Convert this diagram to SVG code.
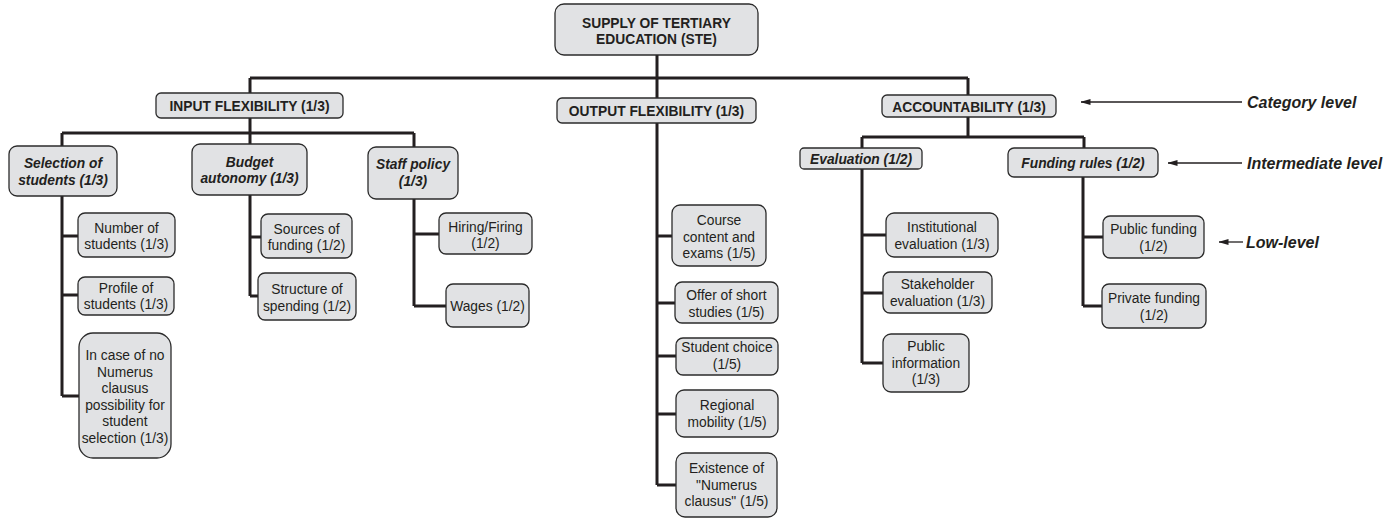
<svg xmlns="http://www.w3.org/2000/svg" width="1392" height="519" viewBox="0 0 1392 519">
<defs>
<style>
.box{fill:#e1e2e4;stroke:#2b2b2b;stroke-width:1.3}
text{font-family:"Liberation Sans",Arial,Helvetica,sans-serif;font-size:13.8px;fill:#231f20;text-anchor:middle}
.b{font-weight:bold}
.bi{font-weight:bold;font-style:italic}
.lbl{font-weight:bold;font-style:italic;font-size:16px;text-anchor:start}
.c{fill:none;stroke:#231f20;stroke-width:3}
.a{fill:none;stroke:#231f20;stroke-width:1.3}
</style>
<marker id="ah" viewBox="0 0 10 6" refX="9.5" refY="3" markerWidth="10" markerHeight="6" orient="auto" markerUnits="userSpaceOnUse">
<path d="M0,0 L10,3 L0,6 Z" fill="#231f20"/>
</marker>
</defs>
<rect width="1392" height="519" fill="#ffffff"/>

<g id="connectors">
<path class="c" d="M657,55 V98 M250,78 H968 M250,78 V93 M968,78 V95"/>
<path class="c" d="M250,118 V133 M62,133 H414 M62,133 V146 M250,133 V144 M414,133 V147"/>
<path class="c" d="M62,196 V396 M62,236 H78 M62,295 H78 M62,396 H79"/>
<path class="c" d="M250,195 V296 M250,237 H261 M250,296 H258"/>
<path class="c" d="M414,199 V306 M414,234 H439 M414,306 H446"/>
<path class="c" d="M657,123 V485 M657,236 H672 M657,303 H675 M657,356 H676 M657,414 H676 M657,485 H676"/>
<path class="c" d="M968,116 V137 M862,137 H1084 M862,137 V148 M1084,137 V148"/>
<path class="c" d="M862,169 V363 M862,235 H886 M862,293 H883 M862,363 H883"/>
<path class="c" d="M1083,177 V306 M1083,237 H1103 M1083,306 H1102"/>
<path class="a" d="M1242,102 H1081" marker-end="url(#ah)"/>
<path class="a" d="M1242,163 H1168" marker-end="url(#ah)"/>
<path class="a" d="M1243,242 H1219" marker-end="url(#ah)"/>
</g>

<g id="labels">
<text class="lbl" x="1247" y="108">Category level</text>
<text class="lbl" x="1247" y="169">Intermediate level</text>
<text class="lbl" x="1246" y="248">Low-level</text>
</g>

<g id="ste"><rect class="box" x="555" y="4" width="203" height="51" rx="9"/>
<text class="b" x="656.5" y="28">SUPPLY OF TERTIARY</text><text class="b" x="656.5" y="44">EDUCATION (STE)</text></g>

<g id="input"><rect class="box" x="156" y="93" width="187" height="25" rx="5"/>
<text class="b" x="249.5" y="111">INPUT FLEXIBILITY (1/3)</text></g>
<g id="output"><rect class="box" x="557" y="98" width="199" height="25" rx="5"/>
<text class="b" x="656.5" y="116">OUTPUT FLEXIBILITY (1/3)</text></g>
<g id="accountability"><rect class="box" x="882" y="95" width="174" height="22" rx="5"/>
<text class="b" x="969" y="112">ACCOUNTABILITY (1/3)</text></g>

<g id="selection"><rect class="box" x="9" y="146" width="108" height="50" rx="8"/>
<text class="bi" x="63" y="168">Selection of</text><text class="bi" x="63" y="185">students (1/3)</text></g>
<g id="budget"><rect class="box" x="192" y="144" width="115" height="51" rx="8"/>
<text class="bi" x="249.5" y="167">Budget</text><text class="bi" x="249.5" y="183">autonomy (1/3)</text></g>
<g id="staff"><rect class="box" x="368" y="147" width="90" height="52" rx="8"/>
<text class="bi" x="413" y="169">Staff policy</text><text class="bi" x="413" y="186">(1/3)</text></g>

<g id="n-number"><rect class="box" x="78" y="213" width="97" height="44" rx="7"/>
<text x="126.5" y="233">Number of</text><text x="126.5" y="249">students (1/3)</text></g>
<g id="n-profile"><rect class="box" x="78" y="277" width="96" height="38" rx="7"/>
<text x="126" y="293">Profile of</text><text x="126" y="309">students (1/3)</text></g>
<g id="n-incase"><rect class="box" x="79" y="333" width="92" height="125" rx="14"/>
<text x="125" y="360">In case of no</text><text x="125" y="376.5">Numerus</text><text x="125" y="393">clausus</text><text x="125" y="409.5">possibility for</text><text x="125" y="426">student</text><text x="125" y="442.5">selection (1/3)</text></g>

<g id="n-sources"><rect class="box" x="261" y="214" width="91" height="44" rx="7"/>
<text x="306.5" y="234">Sources of</text><text x="306.5" y="250">funding (1/2)</text></g>
<g id="n-structure"><rect class="box" x="258" y="273" width="98" height="47" rx="7"/>
<text x="307" y="294">Structure of</text><text x="307" y="310.5">spending (1/2)</text></g>

<g id="n-hiring"><rect class="box" x="439" y="213" width="93" height="41" rx="7"/>
<text x="485.5" y="232">Hiring/Firing</text><text x="485.5" y="248">(1/2)</text></g>
<g id="n-wages"><rect class="box" x="446" y="284" width="83" height="43" rx="7"/>
<text x="487.5" y="311">Wages (1/2)</text></g>

<g id="n-course"><rect class="box" x="672" y="205" width="94" height="61" rx="8"/>
<text x="719" y="225">Course</text><text x="719" y="241.5">content and</text><text x="719" y="258">exams (1/5)</text></g>
<g id="n-offer"><rect class="box" x="675" y="282" width="103" height="41" rx="7"/>
<text x="726.5" y="300">Offer of short</text><text x="726.5" y="316.5">studies (1/5)</text></g>
<g id="n-choice"><rect class="box" x="676" y="338" width="102" height="37" rx="7"/>
<text x="727" y="352">Student choice</text><text x="727" y="369">(1/5)</text></g>
<g id="n-regional"><rect class="box" x="676" y="390" width="102" height="47" rx="8"/>
<text x="727" y="410">Regional</text><text x="727" y="427">mobility (1/5)</text></g>
<g id="n-existence"><rect class="box" x="676" y="453" width="101" height="64" rx="9"/>
<text x="726.5" y="473">Existence of</text><text x="726.5" y="490">"Numerus</text><text x="726.5" y="506">clausus" (1/5)</text></g>

<g id="evaluation"><rect class="box" x="800" y="148" width="122" height="21" rx="4"/>
<text class="bi" x="861" y="164">Evaluation (1/2)</text></g>
<g id="funding"><rect class="box" x="1008" y="148" width="150" height="29" rx="6"/>
<text class="bi" x="1083" y="168">Funding rules (1/2)</text></g>

<g id="n-institutional"><rect class="box" x="886" y="213" width="112" height="44" rx="8"/>
<text x="942" y="232">Institutional</text><text x="942" y="249">evaluation (1/3)</text></g>
<g id="n-stakeholder"><rect class="box" x="883" y="272" width="109" height="41" rx="7"/>
<text x="937.5" y="289">Stakeholder</text><text x="937.5" y="306">evaluation (1/3)</text></g>
<g id="n-publicinfo"><rect class="box" x="883" y="334" width="86" height="58" rx="8"/>
<text x="926" y="351">Public</text><text x="926" y="368">information</text><text x="926" y="384">(1/3)</text></g>

<g id="n-public"><rect class="box" x="1103" y="216" width="101" height="42" rx="7"/>
<text x="1153.5" y="234">Public funding</text><text x="1153.5" y="251">(1/2)</text></g>
<g id="n-private"><rect class="box" x="1102" y="284" width="104" height="44" rx="7"/>
<text x="1154" y="303">Private funding</text><text x="1154" y="320">(1/2)</text></g>
</svg>
